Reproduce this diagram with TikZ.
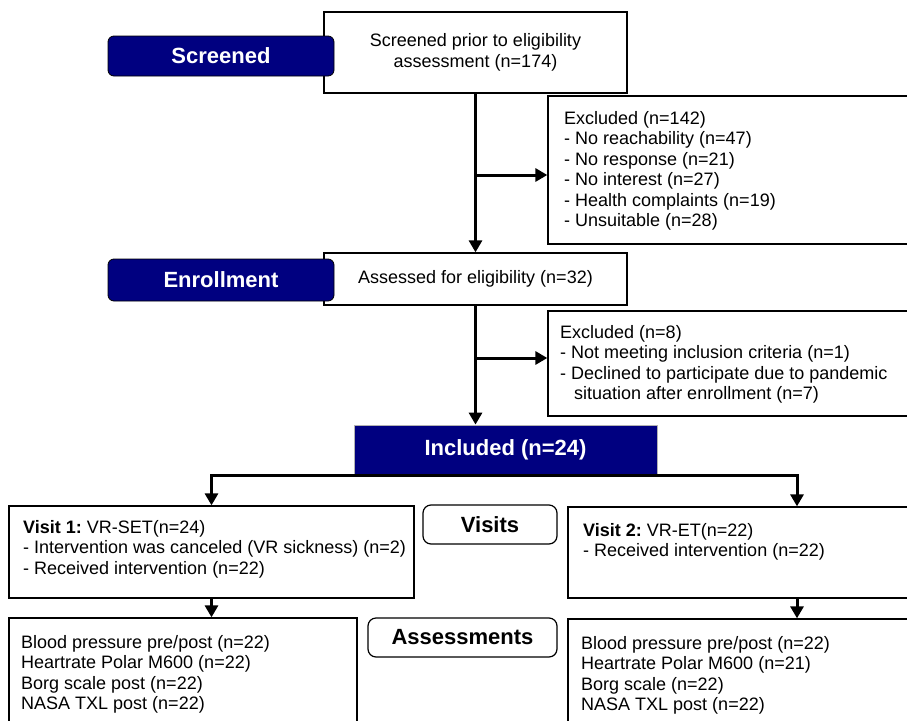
\documentclass[tikz,border=0pt]{standalone}
\usepackage{fontspec}
\setmainfont{Liberation Sans}
\usetikzlibrary{arrows.meta}
\definecolor{navy}{HTML}{000080}
\frenchspacing
\begin{document}
\begin{tikzpicture}[x=1pt,y=-1pt,
  box/.style={draw=black, line width=1.3pt, fill=white, inner sep=0pt},
  navybox/.style={draw=black, line width=0.8pt, fill=navy, rounded corners=6pt, text=white, font=\fontsize{22}{26}\selectfont\bfseries, inner sep=0pt},
  tagbox/.style={draw=black, line width=1.2pt, rounded corners=8pt, fill=white, font=\fontsize{22}{26}\selectfont\bfseries, inner sep=0pt},
  txt/.style={font=\fontsize{18}{20.5}\selectfont\frenchspacing, align=left, inner sep=0pt, anchor=north west},
  ctxt/.style={font=\fontsize{18}{21.5}\selectfont, align=center},
  arr/.style={line width=3pt, -{Triangle[length=12pt,width=13pt]}}
]
\useasboundingbox (0,0) rectangle (907,720);

% main column boxes
\node[box, ctxt, minimum width=303pt, minimum height=81pt] (scr) at (475.5,52.5) {Screened prior to eligibility\\assessment (n=174)};
\node[navybox, minimum width=226pt, minimum height=40pt] (lscr) at (221,56) {Screened};

\node[box, minimum width=362pt, minimum height=148pt] (ex1) at (729,170) {};
\node[txt] (ex1t) at (564,111) {Excluded (n=142)\\- No reachability (n=47)\\- No response (n=21)\\- No interest (n=27)\\- Health complaints (n=19)\\- Unsuitable (n=28)};

\node[box, ctxt, minimum width=303pt, minimum height=52pt] (ass) at (475.5,279) {Assessed for eligibility (n=32)};
\node[navybox, minimum width=226pt, minimum height=42pt] (lenr) at (221,280) {Enrollment};

\node[box, minimum width=362pt, minimum height=105pt] (ex2) at (729,363.5) {};
\node[txt] (ex2t) at (560,325) {Excluded (n=8)\\- Not meeting inclusion criteria (n=1)\\- Declined to participate due to pandemic\\\hspace*{14pt}situation after enrollment (n=7)};

\node[draw=gray!60, line width=0.8pt, fill=navy, text=white, font=\fontsize{22}{26}\selectfont\bfseries, inner sep=0pt, minimum width=303pt, minimum height=50pt] (incl) at (505.5,450) {Included (n=24)};

% visits
\node[box, minimum width=405pt, minimum height=92pt] (v1) at (211.5,552) {};
\node[txt] (v1t) at (23,520) {\textbf{Visit 1:} VR-SET(n=24)\\- Intervention was canceled (VR sickness) (n=2)\\- Received intervention (n=22)};

\node[box, minimum width=458pt, minimum height=91pt] (v2) at (797,552.5) {};
\node[txt] (v2t) at (583,523) {\textbf{Visit 2:} VR-ET(n=22)\\- Received intervention (n=22)};

\node[tagbox, minimum width=134pt, minimum height=39pt] (visits) at (490,524.5) {Visits};

% assessments
\node[box, minimum width=348pt, minimum height=122pt] (a1) at (183,679) {};
\node[txt] (a1t) at (21,635) {Blood pressure pre/post (n=22)\\Heartrate Polar M600 (n=22)\\Borg scale post (n=22)\\NASA TXL post (n=22)};

\node[box, minimum width=458pt, minimum height=121pt] (a2) at (797,679.5) {};
\node[txt] (a2t) at (581,636) {Blood pressure pre/post (n=22)\\Heartrate Polar M600 (n=21)\\Borg scale (n=22)\\NASA TXL post (n=22)};

\node[tagbox, minimum width=189pt, minimum height=39pt] (assm) at (462.5,637.5) {Assessments};

% connectors
\coordinate (j1) at (475.5,175);
\coordinate (j2) at (475.5,358);
\draw[arr] (scr.south) -- (scr.south |- ass.north);
\draw[arr] (j1) -- (j1 -| ex1.west);
\draw[arr] (ass.south) -- (ass.south |- incl.north);
\draw[arr] (j2) -- (j2 -| ex2.west);
\draw[arr] (incl.south) -| (v1.north);
\draw[arr] (incl.south) -| (v2.north);
\draw[arr] (v1.south) -- (v1.south |- a1.north);
\draw[arr] (v2.south) -- (v2.south |- a2.north);
\end{tikzpicture}
\end{document}
